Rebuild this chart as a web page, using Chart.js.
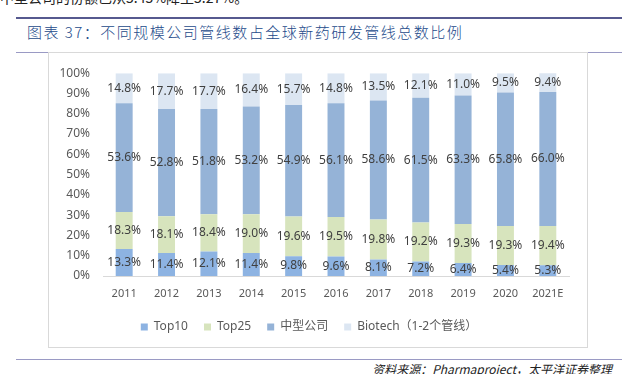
<!DOCTYPE html>
<html>
<head>
<meta charset="utf-8">
<script src="https://cdn.jsdelivr.net/npm/chart.js@4"></script>
<style>
    body { margin: 0; width: 622px; height: 374px; overflow: hidden; background: #fff; position: relative; font-family: "Noto Sans CJK SC", "Noto Sans", sans-serif; }
    .cut { position: absolute; left: 0; top: -13px; font-size: 14px; color: #222; white-space: nowrap; }
    .rule { position: absolute; left: 16px; right: 0; }
    #top { top: 17px; height: 2px; background: #56598f; }
    #mid { top: 52px; height: 1px; background: #9a9ac4; }
    #bot { top: 359px; height: 1px; background: #9a9ac4; }
    .title { position: absolute; left: 27px; top: 21px; font-size: 15px; font-weight: 300; color: #234a8a; letter-spacing: 1.5px; white-space: nowrap; }
    .box { position: absolute; left: 48px; top: 52px; width: 538px; height: 294px; border: 1px solid #d9d9d9; background: #fff; }
    #wrap { position: absolute; left: 49px; top: 53px; width: 538px; height: 294px; }
    .src { position: absolute; right: 10px; top: 360px; font-size: 12px; font-style: italic; color: #222; white-space: nowrap; }
</style>
</head>
<body>
<div class="cut">中型公司的份额已从5.45%降至5.27%。</div>
<div class="rule" id="top"></div>
<div class="title">图表 37：不同规模公司管线数占全球新药研发管线总数比例</div>
<div class="rule" id="mid"></div>
<div class="box"></div>
<div id="wrap"><canvas id="chart" width="538" height="294"></canvas></div>
<div class="rule" id="bot"></div>
<div class="src">资料来源：Pharmaproject，太平洋证券整理</div>
<script>
const years = ["2011", "2012", "2013", "2014", "2015", "2016", "2017", "2018", "2019", "2020", "2021E"];
const top10 = [13.3, 11.4, 12.1, 11.4, 9.8, 9.6, 8.1, 7.2, 6.4, 5.4, 5.3];
const top25 = [18.3, 18.1, 18.4, 19.0, 19.6, 19.5, 19.8, 19.2, 19.3, 19.3, 19.4];
const midSize = [53.6, 52.8, 51.8, 53.2, 54.9, 56.1, 58.6, 61.5, 63.3, 65.8, 66.0];
const biotech = [14.8, 17.7, 17.7, 16.4, 15.7, 14.8, 13.5, 12.1, 11.0, 9.5, 9.4];
const seriesNames = ["Top10", "Top25", "中型公司", "Biotech（1-2个管线）"];
const seriesColors = ["#8db3e2", "#d7e4bd", "#95b3d7", "#dce6f2"];

const FONT = "'Noto Sans', 'Noto Sans CJK SC', sans-serif";

// draw the value in the middle of each segment
const segLabels = {
    id: "segLabels",
    afterDatasetsDraw(chart) {
        const ctx = chart.ctx;
        ctx.save();
        ctx.font = `12px ${FONT}`;
        ctx.fillStyle = "#404040";
        ctx.textAlign = "center";
        ctx.textBaseline = "middle";
        chart.data.datasets.forEach((ds, i) => {
            chart.getDatasetMeta(i).data.forEach((bar, j) => {
                const v = ds.data[j];
                ctx.fillText(v.toFixed(1) + "%", bar.x, (bar.y + bar.base) / 2);
            });
        });
        ctx.restore();
    },
};

const sets = [top10, top25, midSize, biotech].map((d, i) => ({
    label: seriesNames[i],
    data: d,
    backgroundColor: seriesColors[i],
    borderWidth: 0,
    barPercentage: 0.4,
    categoryPercentage: 1,
}));

new Chart(document.getElementById("chart"), {
    type: "bar",
    data: { labels: years, datasets: sets },
    plugins: [segLabels],
    options: {
        responsive: false,
        animation: false,
        layout: { padding: { left: 0, right: 18, top: 6, bottom: 4 } },
        plugins: {
            tooltip: { enabled: false },
            legend: {
                position: "bottom",
                labels: {
                    boxWidth: 7,
                    boxHeight: 7,
                    padding: 16,
                    color: "#595959",
                    font: { size: 12, family: FONT },
                },
            },
        },
        scales: {
            x: {
                stacked: true,
                grid: { display: false, drawTicks: false },
                border: { display: true, color: "#d9d9d9", width: 1 },
                ticks: { color: "#595959", font: { size: 11, family: FONT }, padding: 11 },
                afterFit: (s) => { s.height = 29; },
            },
            y: {
                stacked: true,
                min: 0,
                max: 100,
                grid: { display: false, drawTicks: false },
                border: { display: false },
                ticks: {
                    stepSize: 10,
                    color: "#595959",
                    font: { size: 12, family: FONT },
                    padding: 13,
                    callback: (v) => v + "%",
                },
                afterFit: (s) => { s.width = 54; },
            },
        },
    },
});
</script>
</body>
</html>
